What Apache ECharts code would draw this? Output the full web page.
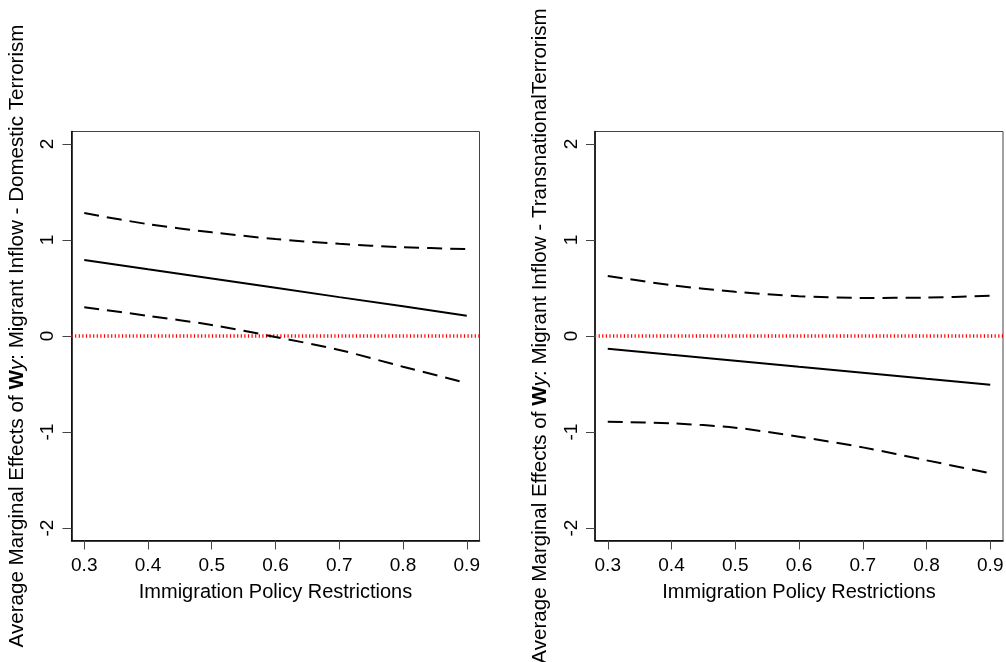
<!DOCTYPE html>
<html>
<head>
<meta charset="utf-8">
<script src="https://cdn.jsdelivr.net/npm/echarts@6/dist/echarts.min.js"></script>
<style>
html,body{margin:0;padding:0;background:#fff;}
#chart{width:1006px;height:662px;}
</style>
</head>
<body>
<div id="chart"></div>
<script>
// ---- data ----
const xValues = [0.3, 0.4, 0.5, 0.6, 0.7, 0.8, 0.9];
const xTicks = [0.3, 0.4, 0.5, 0.6, 0.7, 0.8, 0.9];
const yTicks = [-2, -1, 0, 1, 2];

const domEst   = [0.792, 0.695, 0.599, 0.502, 0.405, 0.309, 0.212];
const domUpper = [1.28, 1.165, 1.08, 1.01, 0.96, 0.925, 0.905];
const domLower = [0.30, 0.21, 0.115, -0.01, -0.145, -0.32, -0.49];

const trEst   = [-0.132, -0.195, -0.257, -0.32, -0.382, -0.445, -0.507];
const trUpper = [0.625, 0.53, 0.46, 0.415, 0.397, 0.40, 0.42];
const trLower = [-0.893, -0.91, -0.955, -1.05, -1.16, -1.295, -1.43];

const xTitle = 'Immigration Policy Restrictions';
const yTitleLeft = ['Average Marginal Effects of ', 'W', 'y', ': Migrant Inflow - Domestic Terrorism'];
const yTitleRight = ['Average Marginal Effects of ', 'W', 'y', ': Migrant Inflow - TransnationalTerrorism'];

const xMin = 0.28, xMax = 0.92, yMin = -2.13, yMax = 2.13;
const FONT = 'Liberation Sans, Arial, sans-serif';

function pairs(xs, ys){ return xs.map((x,i)=>[x, ys[i]]); }

function xAxisCfg(idx){
  return {
    type:'value', gridIndex: idx, min: xMin, max: xMax,
    name: xTitle, nameLocation:'middle', nameGap: 41.5,
    nameTextStyle:{fontFamily:FONT, fontSize:20, color:'#000'},
    axisLine:{show:true, onZero:false, lineStyle:{color:'#000', width:1.5}},
    axisTick:{show:true, customValues:xTicks, length:9, lineStyle:{color:'#444', width:1}},
    axisLabel:{customValues:xTicks, margin:16, fontFamily:FONT, fontSize:19, color:'#000',
      formatter:(v)=>v.toFixed(1)},
    splitLine:{show:false}
  };
}
function yAxisCfg(idx, parts){
  const fs = 20.6;
  return {
    type:'value', gridIndex: idx, min: yMin, max: yMax,
    name: '{a|'+parts[0]+'}{b|'+parts[1]+'}{c|'+parts[2]+'}{a|'+parts[3]+'}',
    nameLocation:'middle', nameGap: 44, nameRotate: 90,
    nameTextStyle:{fontFamily:FONT, fontSize:fs, color:'#000',
      rich:{
        a:{fontFamily:FONT, fontSize:fs, color:'#000'},
        b:{fontFamily:FONT, fontSize:fs, color:'#000', fontWeight:'bold'},
        c:{fontFamily:FONT, fontSize:fs, color:'#000', fontStyle:'italic'}
      }},
    axisLine:{show:true, onZero:false, lineStyle:{color:'#000', width:1.5}},
    axisTick:{show:true, customValues:yTicks, length:9, lineStyle:{color:'#444', width:1}},
    axisLabel:{customValues:yTicks, margin:14, rotate:90, fontFamily:FONT, fontSize:19, color:'#000'},
    splitLine:{show:false}
  };
}
function lineSeries(idx, ys, type, smooth){
  return {
    type:'line', xAxisIndex: idx, yAxisIndex: idx, data: pairs(xValues, ys),
    showSymbol:false, smooth: smooth, silent:true,
    lineStyle:{color:'#000', width:2, type: type}
  };
}
function zeroLine(idx){
  return {
    type:'line', xAxisIndex: idx, yAxisIndex: idx, data: [[xMin,0],[xMax,0]],
    showSymbol:false, silent:true, z:1,
    lineStyle:{color:'#ff0000', width:3.5, type:[1.2,2.4]}
  };
}

const chart = echarts.init(document.getElementById('chart'), null, {renderer:'canvas'});
chart.setOption({
  backgroundColor:'#fff',
  animation:false,
  grid:[
    {left:71.5, top:131.5, width:408, height:409, show:true, borderColor:'#444', borderWidth:1, backgroundColor:'transparent', containLabel:false, outerBoundsMode:'none'},
    {left:595, top:131.5, width:408, height:409, show:true, borderColor:'#444', borderWidth:1, backgroundColor:'transparent', containLabel:false, outerBoundsMode:'none'}
  ],
  xAxis:[xAxisCfg(0), xAxisCfg(1)],
  yAxis:[yAxisCfg(0, yTitleLeft), yAxisCfg(1, yTitleRight)],
  series:[
    zeroLine(0),
    lineSeries(0, domEst, 'solid', false),
    lineSeries(0, domUpper, [15,8], 0.3),
    lineSeries(0, domLower, [15,8], 0.3),
    zeroLine(1),
    lineSeries(1, trEst, 'solid', false),
    lineSeries(1, trUpper, [15,8], 0.3),
    lineSeries(1, trLower, [15,8], 0.3)
  ]
});
</script>
</body>
</html>
